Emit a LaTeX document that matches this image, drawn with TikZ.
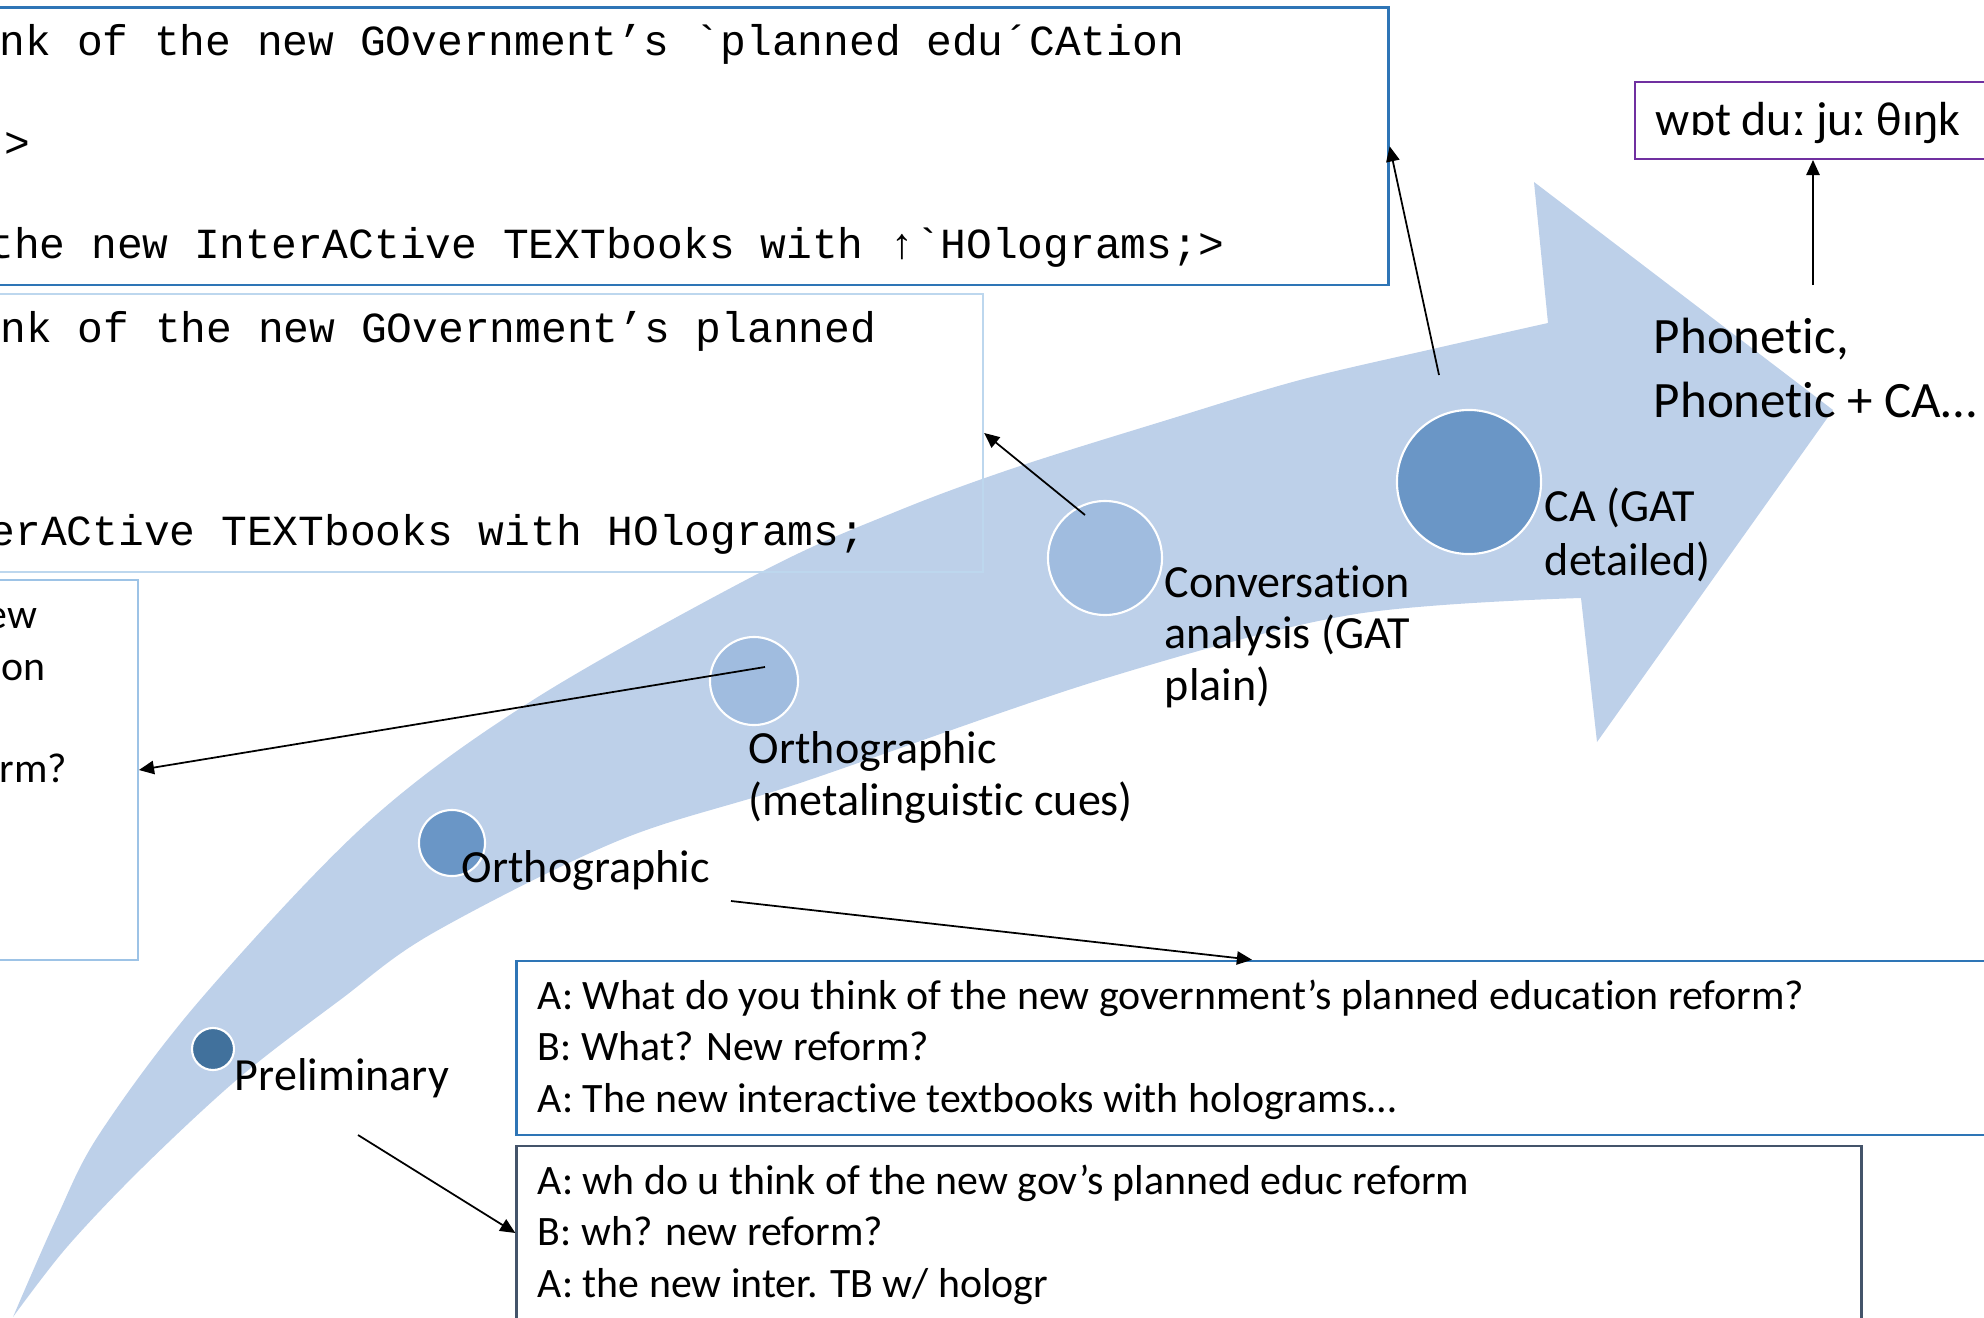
\documentclass[tikz,border=0pt]{standalone}
\usepackage{fontspec}
\setmainfont{Carlito}[Ligatures=NoCommon]
\setmonofont{Liberation Mono}
\usetikzlibrary{arrows.meta}
\definecolor{bandblue}{RGB}{189,208,233}
\definecolor{darkdot}{RGB}{65,113,156}
\definecolor{middot}{RGB}{106,150,198}
\definecolor{lightdot}{RGB}{160,188,223}
\definecolor{boxblue}{RGB}{46,117,182}
\definecolor{paleblue}{RGB}{189,215,238}
\definecolor{softblue}{RGB}{157,195,230}
\definecolor{slate}{RGB}{68,84,106}
\definecolor{ipapurple}{RGB}{112,48,160}

\begin{document}
\begin{tikzpicture}[-{Triangle[length=4.3pt,width=3.8pt]}, x=0.01cm, y=-0.01cm,
      line width=0.5pt,
      stage/.style={circle, draw=white, line width=0.6pt, inner sep=0pt},
      stagetext/.style={anchor=base west, inner sep=0pt, align=left,
        font=\fontsize{13.1pt}{14.6pt}\selectfont},
      sample/.style={rectangle, draw, line width=0.7pt, inner sep=0pt},
      codeline/.style={anchor=base east, inner sep=0pt,
        font=\ttfamily\fontsize{12.2pt}{14pt}\selectfont},
      turns/.style={anchor=base west, inner sep=0pt, align=left,
        font=\fontsize{11.9pt}{14.6pt}\selectfont}]
      \useasboundingbox (0,0) rectangle (1984,1318);
      % arrow band
      \fill[bandblue, -] plot[smooth, tension=0.55] coordinates {(13,1317) (57,1217) (100,1133)
        (200,1000) (367,823) (533,700) (765,570) (900,510) (1017,467) (1167,420) (1300,380)
        (1437,348) (1548,323)}
        -- (1534,182) -- (1833,410) -- (1597,742) -- (1581,598)
        -- plot[smooth, tension=0.55] coordinates {(1581,598) (1350,615) (1100,680) (800,783)
        (620,840) (433,933) (340,1000) (240,1077) (143,1167) (67,1247) (13,1317)} -- cycle;
      % sample boxes
      \node[sample, draw=boxblue, minimum width=14.28cm, minimum height=2.774cm] (topbox) at (674,146.3) {};
      \node[sample, draw=paleblue, line width=0.5pt, minimum width=10.23cm, minimum height=2.78cm] (midbox) at (471.5,433) {};
      \node[sample, draw=softblue, line width=0.5pt, minimum width=1.78cm, minimum height=3.8cm] (leftbox) at (49,770) {};
      \node[sample, draw=boxblue, minimum width=14.7cm, minimum height=1.74cm] (gatbox) at (1252,1048) {};
      \node[sample, draw=slate, minimum width=13.44cm, minimum height=1.74cm] (notebox) at (1189,1233) {};
      \node[sample, draw=ipapurple, line width=0.55pt, minimum width=3.56cm, minimum height=0.77cm] (ipabox) at (1813,120.5) {};
      % stages
      \node[stage, fill=darkdot, minimum size=0.42cm] (prelim) at (213,1049) {};
      \node[stage, fill=middot, minimum size=0.66cm] (ortho) at (452,843) {};
      \node[stage, fill=lightdot, minimum size=0.88cm] (ometa) at (754,681) {};
      \node[stage, fill=lightdot, minimum size=1.14cm] (conv) at (1105,558) {};
      \node[stage, fill=middot, minimum size=1.44cm] (cagat) at (1469,482) {};
      \node[stagetext] (prelimtext) at (234,1090) {Preliminary};
      \node[stagetext] (orthotext) at (461,882) {Orthographic};
      \node[stagetext] (ometatext) at (748,815) {Orthographic\\(metalinguistic cues)};
      \node[stagetext] (convtext) at (1164,700) {Conversation\\analysis (GAT\\plain)};
      \node[stagetext, font=\fontsize{13.1pt}{15.1pt}\selectfont] (cagattext) at (1544,575) {CA (GAT\\detailed)};
      \node[stagetext, font=\fontsize{14.5pt}{18.2pt}\selectfont] (phontext) at (1653,417) {Phonetic,\\Phonetic + CA…};
      % box texts
      \node[codeline] (top1) at (1185,55) {nk of the new GOvernment’s `planned edu´CAtion};
      \node[codeline] (top2) at (31,157) {>};
      \node[codeline] (top3) at (1225,258) {the new InterACtive TEXTbooks with ↑`HOlograms;>};
      \node[codeline] (mid1) at (877,342) {nk of the new GOvernment’s planned};
      \node[codeline] (mid2) at (866,545) {erACtive TEXTbooks with HOlograms;};
      \node[turns, anchor=base east] (left1) at (38,628) {ew};
      \node[turns, anchor=base east] (left2) at (46,680) {on};
      \node[turns, anchor=base east] (left3) at (68,782) {rm?};
      \node[turns] (gattext) at (537,1112) {A: What do you think of the new government’s planned education reform?\\
        B: What? New reform?\\A: The new interactive textbooks with holograms…};
      \node[turns] (notetext) at (537,1297) {A: wh do u think of the new gov’s planned educ reform\\
        B: wh? new reform?\\A: the new inter. TB w/ hologr};
      \node[anchor=base west, inner sep=0pt, font=\fontsize{13.6pt}{15pt}\selectfont] (ipatext) at (1655,135) {wɒt duː juː θɪŋk};
      % pointers
      \coordinate (ometa-out) at (765,667);
      \coordinate (ortho-out) at (731,901);
      \coordinate (prelim-out) at (358,1135);
      \coordinate (conv-out) at (1085,515);
      \coordinate (cagat-out) at (1439,375);
      \coordinate (phon-out) at (1813,285);
      \path (ometa-out) edge (leftbox.east);
      \path (ortho-out) edge (gatbox.north);
      \path (prelim-out) edge (notebox.west);
      \path (conv-out) edge (midbox.east);
      \path (cagat-out) edge (topbox.east);
      \path (phon-out) edge (ipabox.south);
  \end{tikzpicture}
\end{document}
